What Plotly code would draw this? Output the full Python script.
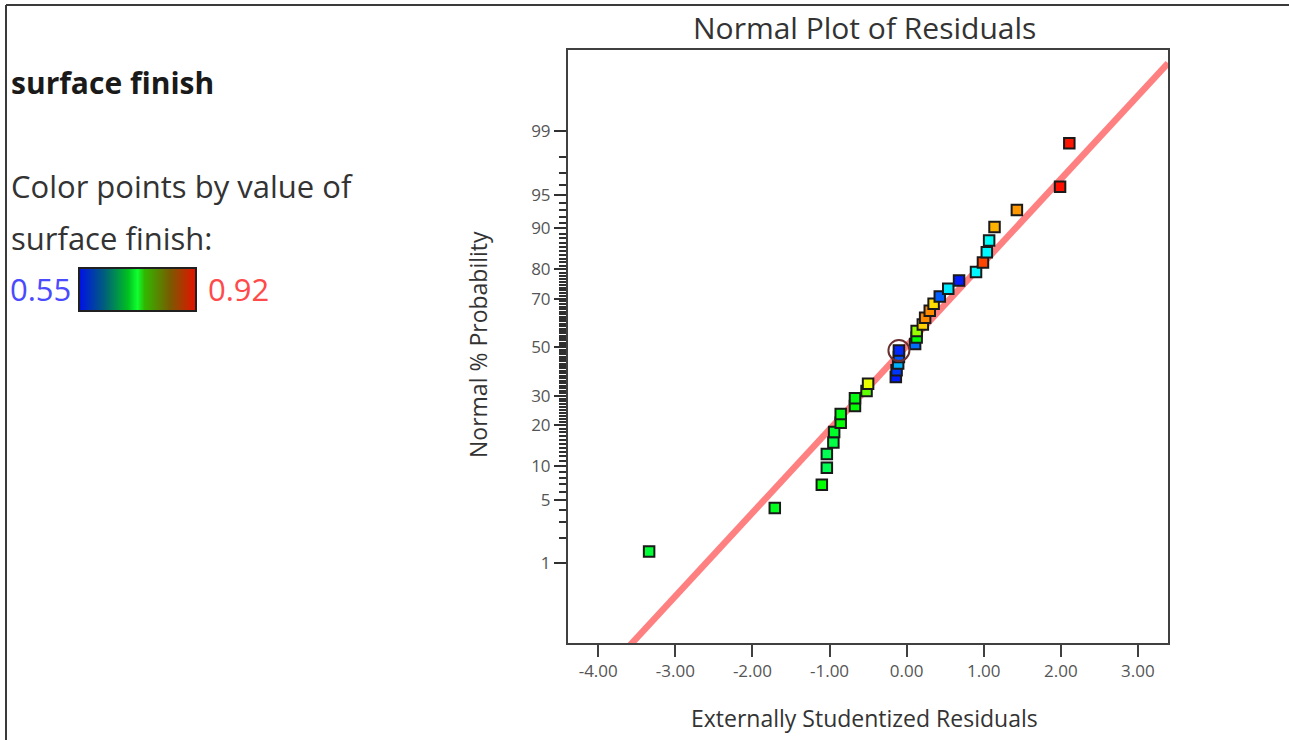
import plotly.graph_objects as go
from statistics import NormalDist

# ---------------- data ----------------
residuals = [-3.34, -1.71, -1.10, -1.035, -1.035, -0.95, -0.94, -0.855, -0.855, -0.67,
             -0.67, -0.52, -0.50, -0.14, -0.13, -0.11, -0.10, -0.10, 0.11, 0.13,
             0.13, 0.21, 0.24, 0.30, 0.35, 0.43, 0.54, 0.68, 0.90, 0.99,
             1.04, 1.07, 1.14, 1.43, 1.99, 2.11]
prob_pct = [1.39, 4.17, 6.94, 9.72, 12.50, 15.28, 18.06, 20.83, 23.61, 26.39,
            29.17, 31.94, 34.72, 37.50, 40.28, 43.06, 45.83, 48.61, 51.39, 54.17,
            56.94, 59.72, 62.50, 65.28, 68.06, 70.83, 73.61, 76.39, 79.17, 81.94,
            84.72, 87.50, 90.28, 93.06, 95.83, 98.61]
surface_finish = [0.715, 0.725, 0.735, 0.705, 0.705, 0.71, 0.72, 0.735, 0.73, 0.735,
                  0.73, 0.77, 0.82, 0.56, 0.57, 0.615, 0.58, 0.565, 0.59, 0.735,
                  0.79, 0.845, 0.87, 0.87, 0.84, 0.585, 0.635, 0.56, 0.64, 0.895,
                  0.64, 0.645, 0.855, 0.865, 0.915, 0.912]
highlight_index = 17
sf_min, sf_max = 0.55, 0.92

line_slope, line_intercept = 0.899, 0.015

x_tick_vals = [-4, -3, -2, -1, 0, 1, 2, 3]
x_tick_text = ["-4.00", "-3.00", "-2.00", "-1.00", "0.00", "1.00", "2.00", "3.00"]
y_major_pct = [1, 5, 10, 20, 30, 50, 70, 80, 90, 95, 99]
y_minor_pct = [p for p in range(1, 100) if p not in y_major_pct]

x_range = [-4.392, 3.39]
y_range = [-3.186, 3.204]

# ---------------- helpers ----------------
nd = NormalDist()
z = lambda p: nd.inv_cdf(p / 100.0)
y_vals = [z(p) for p in prob_pct]

W, H = 1289, 740
L, R, T, B = 568, 1168, 50, 643


def px_x(px):
    return (px - L) / (R - L)


def px_y(py):
    return (B - py) / (B - T)


point_scale = [[0.0, "#0000ff"], [0.25, "#00ffff"], [0.5, "#00ff00"],
               [0.75, "#ffff00"], [1.0, "#ff0000"]]
legend_scale = [[0.0, "#0010e8"], [0.22, "#00607a"], [0.42, "#00c020"],
                [0.5, "#10ff30"], [0.56, "#30b800"], [0.78, "#7a5a00"],
                [1.0, "#e81000"]]

fig = go.Figure()

# reference line
lx = x_range
fig.add_trace(go.Scatter(
    x=lx, y=[line_intercept + line_slope * v for v in lx], mode="lines",
    line=dict(color="#ff8080", width=6.5), hoverinfo="skip", showlegend=False))

# points
fig.add_trace(go.Scatter(
    x=residuals, y=y_vals, mode="markers", showlegend=False,
    marker=dict(symbol="square", size=10.5, color=surface_finish,
                colorscale=point_scale, cmin=sf_min, cmax=sf_max,
                line=dict(color="#1a1a1a", width=2))))

# highlighted point circle
fig.add_trace(go.Scatter(
    x=[residuals[highlight_index]], y=[y_vals[highlight_index]], mode="markers",
    showlegend=False, hoverinfo="skip",
    marker=dict(symbol="circle-open", size=21, color="#6a3030",
                line=dict(width=2, color="#6a3030"))))

# legend colour bar (dummy trace)
fig.add_trace(go.Scatter(
    x=[None], y=[None], mode="markers", showlegend=False, hoverinfo="skip",
    marker=dict(color=[sf_min], colorscale=legend_scale, cmin=sf_min, cmax=sf_max,
                showscale=True,
                colorbar=dict(orientation="h", x=px_x(79), y=px_y(268),
                              xanchor="left", yanchor="top",
                              len=117, lenmode="pixels", thickness=43,
                              thicknessmode="pixels", xpad=0, ypad=0,
                              outlinewidth=2, outlinecolor="#202020",
                              showticklabels=False, ticks=""))))

font_family = "Open Sans, Noto Sans, DejaVu Sans, sans-serif"

annotations = [
    dict(text="<b>surface finish</b>", x=px_x(9), y=px_y(82), xanchor="left",
         yanchor="middle", font=dict(size=30, color="#1a1a1a")),
    dict(text="Color points by value of", x=px_x(9), y=px_y(186), xanchor="left",
         yanchor="middle", font=dict(size=31, color="#333333")),
    dict(text="surface finish:", x=px_x(9), y=px_y(238), xanchor="left",
         yanchor="middle", font=dict(size=31, color="#333333")),
    dict(text="0.55", x=px_x(8), y=px_y(289), xanchor="left",
         yanchor="middle", font=dict(size=31, color="#4a4aff")),
    dict(text="0.92", x=px_x(206), y=px_y(289), xanchor="left",
         yanchor="middle", font=dict(size=31, color="#ff4a4a")),
    dict(text="Normal Plot of Residuals", x=px_x(864), y=px_y(27), xanchor="center",
         yanchor="middle", font=dict(size=30, color="#333333")),
    dict(text="Externally Studentized Residuals", x=px_x(864), y=px_y(718),
         xanchor="center", yanchor="middle", font=dict(size=23, color="#333333")),
    dict(text="Normal % Probability", x=px_x(478), y=px_y(345), xanchor="center",
         yanchor="middle", textangle=-90, font=dict(size=23, color="#333333")),
]
for a in annotations:
    a.update(xref="paper", yref="paper", showarrow=False)

shapes = [
    dict(type="line", xref="paper", yref="paper", x0=px_x(6), x1=px_x(W + 5),
         y0=px_y(5), y1=px_y(5), line=dict(color="#3a3a3a", width=2)),
    dict(type="line", xref="paper", yref="paper", x0=px_x(6), x1=px_x(6),
         y0=px_y(5), y1=px_y(H + 5), line=dict(color="#3a3a3a", width=2)),
]

fig.update_layout(
    width=W, height=H,
    margin=dict(l=L, r=W - R, t=T, b=H - B, pad=0, autoexpand=False),
    paper_bgcolor="white", plot_bgcolor="white",
    font=dict(family=font_family, color="#333333"),
    annotations=annotations, shapes=shapes,
    xaxis=dict(range=x_range, tickvals=x_tick_vals, ticktext=x_tick_text,
               showgrid=False, zeroline=False, showline=True, mirror=True,
               linecolor="#404040", linewidth=2, ticks="outside", ticklen=12,
               tickwidth=2, tickcolor="#404040",
               tickfont=dict(size=17, color="#555555")),
    yaxis=dict(range=y_range, tickvals=[z(p) for p in y_major_pct],
               ticktext=[str(p) for p in y_major_pct],
               showgrid=False, zeroline=False, showline=True, mirror=True,
               linecolor="#404040", linewidth=2, ticks="outside", ticklen=12,
               tickwidth=1.5, tickcolor="#303030",
               tickfont=dict(size=17, color="#555555"),
               minor=dict(tickmode="array", tickvals=[z(p) for p in y_minor_pct],
                          ticks="outside", ticklen=7, tickwidth=1.5,
                          tickcolor="#303030", showgrid=False)),
)

fig.write_html("out.html", config={"displayModeBar": False},
               post_script="document.body.style.margin='0px';document.body.style.overflow='hidden';")
